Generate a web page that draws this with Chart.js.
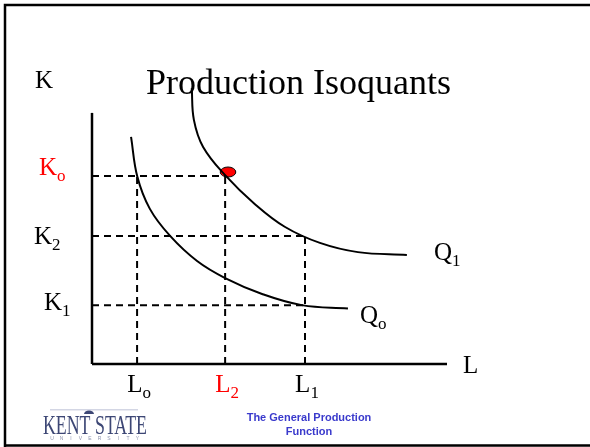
<!DOCTYPE html>
<html>
<head>
<meta charset="utf-8">
<script src="https://cdn.jsdelivr.net/npm/chart.js@4"></script>
<style>
  html, body { margin: 0; padding: 0; background: #ffffff; }
  canvas { display: block; }
</style>
</head>
<body>
<canvas id="c" width="590" height="447"></canvas>
<script>
// ---- data (L = labour on x, K = capital on y) ----
const chartTitle = 'Production Isoquants';
const xAxisName = 'L';
const yAxisName = 'K';
const lTickMain = ['L', 'L', 'L'];
const lTickSubs = ['o', '2', '1'];
const lTickValues = [1.27, 3.75, 6.00];
const kTickMain = ['K', 'K', 'K'];
const kTickSubs = ['o', '2', '1'];
const kTickValues = [6.74, 4.59, 2.11];
const q0L = [1.10, 1.28, 1.63, 2.20, 2.96, 3.75, 4.79, 5.91, 7.21];
const q0K = [8.14, 6.70, 5.56, 4.59, 3.69, 3.08, 2.51, 2.11, 1.99];
const q1L = [2.81, 2.87, 3.13, 3.75, 4.59, 5.44, 6.42, 7.49, 8.87];
const q1K = [9.89, 8.75, 7.78, 6.77, 5.73, 4.91, 4.34, 4.01, 3.91];
const curveNames = ['Q', 'Q'];
const curveSubs = ['o', '1'];
const pointL = [3.83];
const pointK = [6.88];
const xAxisMax = 10;
const yAxisTop = 9.0;
const footerLines = ['The General Production', 'Function'];

// ---- build datasets ----
const pts = (xs, ys) => xs.map((x, i) => ({ x: x, y: ys[i] }));
const solid = { showLine: true, pointRadius: 0, borderColor: '#000', fill: false, clip: false, tension: 0 };
const dashed = Object.assign({}, solid, { borderWidth: 2, borderDash: [7, 5] });

const [Lo, L2, L1] = lTickValues;
const [Ko, K2, K1] = kTickValues;

const datasets = [
  Object.assign({}, dashed, { data: [{ x: 0, y: Ko }, { x: L2, y: Ko }] }),
  Object.assign({}, dashed, { data: [{ x: 0, y: K2 }, { x: L1, y: K2 }] }),
  Object.assign({}, dashed, { data: [{ x: 0, y: K1 }, { x: L1, y: K1 }] }),
  Object.assign({}, dashed, { data: [{ x: Lo, y: 0 }, { x: Lo, y: Ko }] }),
  Object.assign({}, dashed, { data: [{ x: L2, y: 0 }, { x: L2, y: Ko }] }),
  Object.assign({}, dashed, { data: [{ x: L1, y: 0 }, { x: L1, y: K2 }] }),
  Object.assign({}, solid, { borderWidth: 2.5, data: [{ x: 0, y: 0 }, { x: 0, y: yAxisTop }] }),
  Object.assign({}, solid, { borderWidth: 2.5, data: [{ x: 0, y: 0 }, { x: xAxisMax, y: 0 }] }),
  Object.assign({}, solid, { borderWidth: 2, tension: 0.4, data: pts(q0L, q0K) }),
  Object.assign({}, solid, { borderWidth: 2, tension: 0.4, data: pts(q1L, q1K) })
];

// red ellipse marker
const dot = document.createElement('canvas');
dot.width = 18; dot.height = 12;
(function () {
  const g = dot.getContext('2d');
  g.beginPath();
  g.ellipse(9, 6, 7.8, 5, 0, 0, Math.PI * 2);
  g.fillStyle = '#ff0000';
  g.fill();
  g.lineWidth = 1;
  g.strokeStyle = '#000';
  g.stroke();
})();
datasets.push({ data: pts(pointL, pointK), showLine: false, pointStyle: dot, pointRadius: 8, clip: false });

// ---- text / decoration plugin ----
const serif = '"Liberation Serif", "Times New Roman", serif';
function subLabel(ctx, main, sub, x, baseline, color, align) {
  ctx.fillStyle = color;
  ctx.font = '25px ' + serif;
  const wm = ctx.measureText(main).width;
  ctx.font = '17px ' + serif;
  const ws = ctx.measureText(sub).width;
  let x0 = x;
  if (align === 'center') x0 = x - (wm + ws) / 2;
  ctx.textAlign = 'left';
  ctx.textBaseline = 'alphabetic';
  ctx.font = '25px ' + serif;
  ctx.fillText(main, x0, baseline);
  ctx.font = '17px ' + serif;
  ctx.fillText(sub, x0 + wm, baseline + 6);
}

const decor = {
  id: 'decor',
  afterDraw(chart) {
    const ctx = chart.ctx;
    const xs = chart.scales.x, ys = chart.scales.y;
    ctx.save();
    // slide frame
    ctx.strokeStyle = '#000';
    ctx.lineWidth = 2.5;
    ctx.beginPath();
    ctx.moveTo(5, 447); ctx.lineTo(5, 5); ctx.lineTo(590, 5);
    ctx.moveTo(4, 445.5); ctx.lineTo(590, 445.5);
    ctx.stroke();

    // title and axis names
    ctx.fillStyle = '#000';
    ctx.textBaseline = 'alphabetic';
    ctx.textAlign = 'left';
    ctx.font = '36px ' + serif;
    ctx.fillText(chartTitle, 146, 94);
    ctx.font = '25px ' + serif;
    ctx.fillText(yAxisName, 35, 88);
    ctx.fillText(xAxisName, 463, 373);

    // L tick labels
    const lColors = ['#000', '#ff0000', '#000'];
    lTickValues.forEach((v, i) => {
      subLabel(ctx, lTickMain[i], lTickSubs[i], xs.getPixelForValue(v) + 2, 392, lColors[i], 'center');
    });
    // K tick labels
    const kColors = ['#ff0000', '#000', '#000'];
    const kLeft = [39, 34, 44];
    const kShift = [-1, 8, 5];
    kTickValues.forEach((v, i) => {
      subLabel(ctx, kTickMain[i], kTickSubs[i], kLeft[i], ys.getPixelForValue(v) + kShift[i], kColors[i], 'left');
    });
    // curve labels
    const q0End = chart.getDatasetMeta(8).data;
    const q1End = chart.getDatasetMeta(9).data;
    const e0 = q0End[q0End.length - 1], e1 = q1End[q1End.length - 1];
    subLabel(ctx, curveNames[0], curveSubs[0], e0.x + 12, e0.y + 15, '#000', 'left');
    subLabel(ctx, curveNames[1], curveSubs[1], e1.x + 27, e1.y + 5, '#000', 'left');

    // footer text
    ctx.fillStyle = '#3a3acc';
    ctx.font = 'bold 11px "Liberation Sans", Arial, sans-serif';
    ctx.textAlign = 'center';
    ctx.textBaseline = 'middle';
    ctx.fillText(footerLines[0], 309, 418);
    ctx.fillText(footerLines[1], 309, 432);

    // logo
    ctx.fillStyle = '#d3d6e4';
    ctx.fillRect(50, 409, 88, 1.5);
    ctx.fillStyle = '#3d4775';
    ctx.beginPath();
    ctx.ellipse(89, 414, 5, 3.5, 0, Math.PI, 0);
    ctx.fill();
    ctx.save();
    ctx.font = '27px ' + serif;
    ctx.textAlign = 'left';
    ctx.textBaseline = 'alphabetic';
    const w = ctx.measureText('KENT STATE').width;
    ctx.translate(43, 434);
    ctx.scale(104 / w, 1);
    ctx.fillText('KENT STATE', 0, 0);
    ctx.restore();
    ctx.fillStyle = '#9096b0';
    ctx.font = '5px "Liberation Sans", Arial, sans-serif';
    ctx.textAlign = 'center';
    ctx.textBaseline = 'middle';
    'UNIVERSITY'.split('').forEach((ch, i) => ctx.fillText(ch, 52 + i * 9.5, 439));
    ctx.restore();
  }
};

new Chart(document.getElementById('c'), {
  type: 'scatter',
  data: { datasets: datasets },
  options: {
    responsive: false,
    animation: false,
    devicePixelRatio: 1,
    layout: { padding: { left: 92, right: 143, top: 85, bottom: 83 } },
    scales: {
      x: { type: 'linear', min: 0, max: xAxisMax, display: false },
      y: { type: 'linear', min: 0, max: 10, display: false }
    },
    plugins: { legend: { display: false }, tooltip: { enabled: false }, title: { display: false } },
    events: []
  },
  plugins: [decor]
});
</script>
</body>
</html>
